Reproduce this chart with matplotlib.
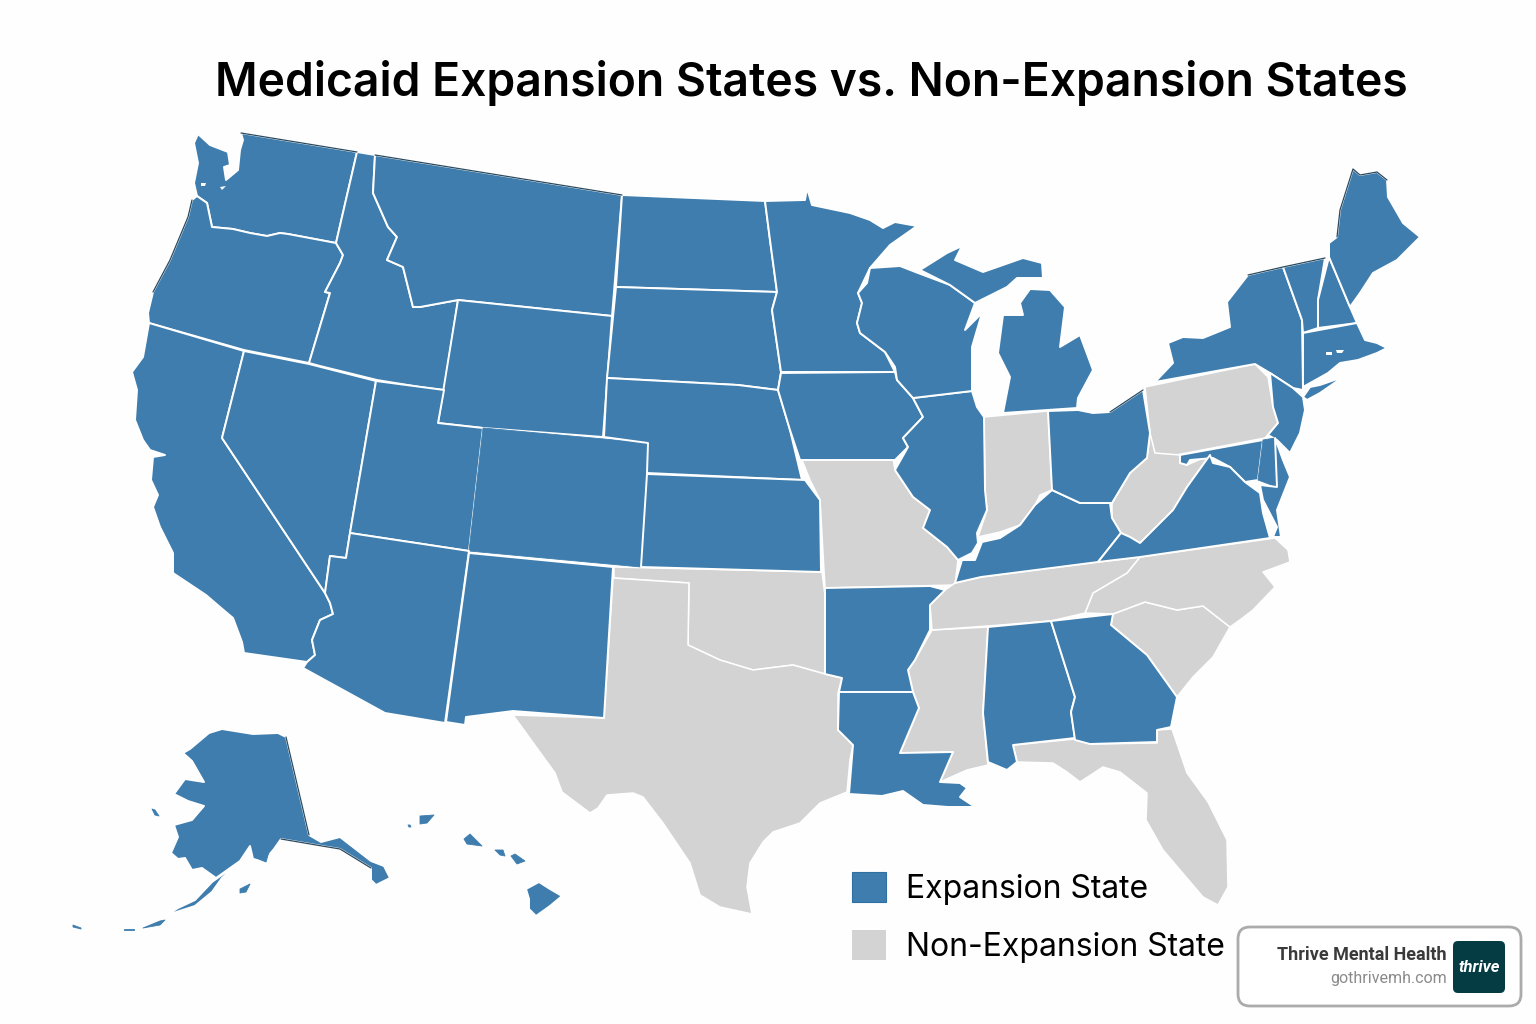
import matplotlib
matplotlib.use("Agg")
import matplotlib.pyplot as plt
from matplotlib.patches import Polygon, FancyBboxPatch, Patch

BLUE = "#3E7DAD"
GRAY = "#D3D3D3"

TITLE = "Medicaid Expansion States vs. Non-Expansion States"
LEGEND_LABELS = ["Expansion State", "Non-Expansion State"]

# State outlines in image pixels
WA = [(241,133),(357,152),(336,243),(288,234),(280,233),(267,236),(250,233),(233,229),(212,227),(207,203),(197,196),(194,183),(198,163),(194,143),(198,134),(210,145),(228,152),(230,165),(224,167),(226,180),(238,170),(240,150),(243,140)]
OR = [(197,196),(207,203),(212,227),(233,229),(250,233),(267,236),(280,233),(288,234),(336,243),(343,255),(340,263),(325,292),(330,293),(309,363),(244,350),(149,323),(148,313),(153,292),(170,260),(188,217),(192,200)]
CA = [(149,323),(244,351),(222,438),(325,593),(330,603),(333,614),(320,620),(312,640),(315,655),(307,662),(244,653),(242,642),(233,618),(220,607),(206,595),(173,573),(173,553),(160,527),(153,507),(158,495),(151,480),(153,457),(165,455),(150,450),(143,440),(135,420),(137,390),(132,372),(143,357)]
NV = [(244,351),(309,364),(376,381),(350,533),(346,558),(330,556),(325,593),(222,438)]
ID = [(357,152),(375,155),(373,193),(388,227),(397,237),(387,260),(403,267),(413,307),(420,307),(458,300),(444,390),(420,387),(377,380),(320,366),(309,363),(330,293),(325,292),(340,263),(343,255),(336,243)]
MT = [(375,155),(622,195),(612,316),(458,300),(420,307),(413,307),(403,267),(387,260),(397,237),(388,227),(373,193)]
WY = [(458,300),(612,316),(603,437),(483,428),(438,423)]
UT = [(376,381),(444,390),(438,423),(483,428),(469,551),(350,533)]
CO = [(483,428),(648,443),(641,567),(469,551)]
AZ = [(350,533),(469,551),(445,723),(385,713),(303,668),(307,662),(315,655),(312,640),(320,620),(333,614),(330,603),(325,593),(330,556),(346,558)]
NM = [(469,553),(613,567),(604,718),(513,711),(466,717),(465,725),(446,722)]
ND = [(622,195),(765,201),(770,240),(777,292),(616,287)]
SD = [(616,287),(777,292),(772,310),(781,372),(778,390),(738,385),(607,378)]
NE = [(607,378),(738,385),(778,390),(790,430),(802,480),(647,473),(648,443),(604,437)]
KS = [(647,474),(805,480),(820,500),(821,572),(641,567)]
OK = [(614,567),(822,572),(825,595),(825,674),(793,665),(753,670),(720,660),(688,645),(689,583),(614,578)]
TX = [(613,578),(689,583),(688,645),(720,660),(753,670),(793,665),(825,674),(842,678),(838,693),(838,730),(853,745),(850,760),(847,792),(820,803),(800,823),(773,832),(763,842),(750,863),(747,887),(752,914),(720,907),(700,895),(690,863),(663,823),(643,797),(633,793),(607,795),(598,808),(590,813),(562,792),(555,773),(513,715),(604,718)]
MN = [(765,201),(805,200),(807,188),(812,205),(850,213),(870,220),(883,228),(895,222),(917,226),(890,245),(870,268),(858,293),(862,303),(857,323),(860,333),(885,352),(895,372),(781,372),(772,310),(777,292),(770,240)]
IA = [(781,373),(895,372),(897,380),(913,398),(923,417),(903,438),(908,447),(895,460),(800,460),(790,430),(778,390)]
MO = [(802,460),(893,458),(895,470),(913,497),(930,510),(923,528),(947,547),(958,560),(955,585),(825,588),(820,500),(810,480)]
AR = [(825,588),(930,586),(945,590),(930,605),(930,630),(915,660),(908,670),(913,692),(839,692),(842,678),(825,674)]
LA = [(839,692),(913,692),(919,708),(900,753),(953,752),(940,782),(960,783),(967,788),(960,797),(975,807),(948,807),(923,805),(903,791),(882,796),(849,794),(853,745),(838,730)]
MS = [(932,630),(988,627),(983,713),(988,765),(967,770),(940,782),(953,752),(900,753),(919,708),(913,692),(908,670),(915,660)]
AL = [(988,627),(1051,621),(1075,697),(1071,712),(1075,738),(1013,745),(1017,762),(1007,770),(988,762),(983,713)]
GA = [(1051,621),(1113,614),(1111,625),(1147,655),(1177,697),(1171,727),(1157,730),(1157,742),(1090,744),(1075,740),(1071,712),(1075,697)]
FL = [(1013,745),(1075,739),(1090,744),(1157,743),(1157,730),(1172,729),(1187,773),(1208,802),(1227,840),(1228,887),(1218,905),(1203,897),(1163,850),(1146,820),(1147,793),(1120,772),(1103,767),(1080,782),(1067,772),(1053,763),(1017,762)]
SC = [(1113,614),(1145,602),(1177,610),(1203,606),(1230,627),(1213,657),(1193,677),(1177,697),(1147,655),(1111,625)]
NC = [(1085,613),(1093,593),(1127,573),(1140,557),(1275,538),(1288,550),(1290,562),(1263,572),(1275,587),(1253,610),(1240,620),(1230,627),(1203,606),(1177,610),(1145,602),(1113,614)]
TN = [(955,583),(981,577),(1098,562),(1140,557),(1127,573),(1093,593),(1085,613),(1051,621),(988,626),(932,630),(930,605),(945,590)]
KY = [(955,583),(962,560),(975,560),(982,542),(1000,538),(1020,525),(1035,505),(1052,490),(1080,503),(1110,503),(1112,518),(1121,533),(1098,562),(981,577)]
IL = [(913,398),(972,391),(977,407),(984,417),(985,490),(987,510),(977,533),(978,543),(972,553),(958,560),(947,547),(923,528),(930,510),(913,497),(895,470),(908,447),(903,438),(923,417)]
IN = [(984,417),(1048,411),(1052,490),(1040,495),(1035,505),(1020,525),(1000,532),(978,537),(987,510),(985,490)]
OH = [(1048,411),(1078,410),(1093,413),(1110,412),(1143,390),(1150,433),(1147,458),(1130,473),(1112,503),(1080,503),(1052,490)]
WI = [(870,268),(900,266),(918,273),(950,285),(975,303),(965,330),(982,313),(972,347),(972,391),(913,398),(897,380),(895,367),(885,352),(860,333),(857,323),(862,303),(858,293),(867,283)]
MI_UPPER = [(920,270),(947,253),(962,246),(955,260),(983,272),(1023,258),(1042,263),(1043,278),(1057,278),(1017,278),(1007,287),(975,303),(950,285)]
MI_LOWER = [(1003,413),(1010,377),(998,353),(1003,315),(1023,315),(1020,303),(1030,289),(1050,290),(1065,307),(1060,347),(1080,335),(1093,370),(1078,398),(1077,408)]
NY = [(1155,382),(1173,363),(1168,343),(1183,337),(1203,338),(1230,327),(1227,302),(1248,275),(1283,267),(1302,320),(1303,390),(1293,388),(1270,373),(1255,364)]
LONG_ISLAND = [(1303,397),(1310,387),(1320,385),(1343,377),(1320,393),(1307,400)]
VT = [(1283,267),(1325,258),(1318,300),(1318,328),(1303,333),(1302,320)]
NH = [(1329,257),(1350,307),(1357,323),(1318,328),(1318,300)]
ME = [(1329,257),(1329,243),(1337,237),(1340,210),(1353,169),(1360,175),(1377,172),(1387,180),(1388,197),(1403,223),(1420,237),(1397,260),(1373,273),(1360,293),(1350,307)]
MA_CT_RI = [(1303,333),(1357,323),(1365,340),(1377,343),(1387,348),(1377,353),(1358,360),(1340,363),(1328,373),(1303,387)]
PA = [(1145,387),(1255,364),(1268,377),(1273,407),(1278,423),(1265,438),(1150,460),(1150,433)]
NJ = [(1270,373),(1293,388),(1303,397),(1305,410),(1300,433),(1290,453),(1277,440),(1268,435),(1278,423),(1273,407)]
WV = [(1150,433),(1155,453),(1180,455),(1180,463),(1187,465),(1210,455),(1187,487),(1173,510),(1140,543),(1130,537),(1121,533),(1112,518),(1112,503),(1130,473),(1147,458)]
MD = [(1180,455),(1263,440),(1258,480),(1245,482),(1230,467),(1213,458),(1190,460),(1187,465),(1180,463)]
DE = [(1263,440),(1275,438),(1277,487),(1258,480)]
DELMARVA = [(1275,438),(1283,460),(1290,477),(1277,510),(1281,537),(1273,537),(1277,527),(1263,500),(1260,485),(1277,487)]
VA = [(1140,543),(1173,510),(1187,487),(1210,455),(1213,463),(1230,467),(1245,482),(1260,493),(1263,513),(1270,538),(1140,557),(1098,562),(1121,533),(1130,537)]
AK = [(209,733),(222,729),(253,734),(278,733),(286,737),(309,835),(321,842),(340,837),(371,861),(384,866),(390,878),(376,885),(371,880),(371,868),(340,849),(322,846),(281,839),(274,849),(264,861),(253,859),(250,846),(240,861),(216,878),(202,868),(192,870),(185,858),(178,859),(171,853),(178,837),(174,825),(192,820),(204,806),(188,801),(174,794),(185,779),(204,782),(192,761),(183,753),(190,749)]
AK_PENINSULA = [(240,862),(222,878),(212,892),(195,906),(170,914),(165,916),(178,908),(195,900),(212,882)]
AK_KODIAK = [(240,889),(250,884),(246,892),(240,893)]
AK_KENAI = [(254,847),(271,845),(266,862),(256,858)]
AK_NUNIVAK = [(152,809),(155,810),(159,816),(155,815)]
AK_ALEUT_1 = [(73,925),(81,928),(81,929),(73,927)]
AK_ALEUT_2 = [(124,929),(134,929),(134,930),(124,930)]
AK_ALEUT_3 = [(143,928),(160,921),(165,920),(160,925)]
HI_BIG = [(526,889),(539,882),(550,889),(562,896),(550,906),(536,916),(529,909),(529,899)]
HI_MAUI = [(511,856),(515,854),(525,861),(517,864)]
HI_MOLOKAI = [(495,850),(503,850),(505,856),(500,855)]
HI_OAHU = [(464,839),(470,834),(482,846),(467,844)]
HI_KAUAI = [(420,816),(434,815),(427,823),(420,824)]
HI_NIIHAU = [(408,825),(410,825),(411,827),(409,827)]

# small white water specks inside blue states
SPECK_WA_1 = [(201,183),(206,183),(205,186),(201,186)]
SPECK_WA_2 = [(220,187),(226,186),(222,190)]
SPECK_MA_1 = [(1326,352),(1332,352),(1332,355),(1326,355)]
SPECK_MA_2 = [(1336,350),(1344,350),(1342,353),(1337,353)]

EXPANSION = [WA, OR, CA, NV, ID, MT, WY, UT, CO, AZ, NM, ND, SD, NE, KS, MN, IA, AR, LA, AL, GA,
             KY, IL, OH, WI, MI_UPPER, MI_LOWER, NY, LONG_ISLAND, VT, NH, ME, MA_CT_RI, NJ, MD, DE,
             DELMARVA, VA, AK, AK_PENINSULA, AK_KODIAK, AK_KENAI, AK_NUNIVAK, AK_ALEUT_1,
             AK_ALEUT_2, AK_ALEUT_3, HI_BIG, HI_MAUI, HI_MOLOKAI, HI_OAHU, HI_KAUAI, HI_NIIHAU]
NON_EXPANSION = [OK, TX, MO, MS, FL, SC, NC, TN, IN, PA, WV]
SPECKS = [SPECK_WA_1, SPECK_WA_2, SPECK_MA_1, SPECK_MA_2]

# thin dark rim along the northern edges
RIM_WA = [(241,133),(357,152)]
RIM_MT = [(375,155),(622,195)]
RIM_OR = [(192,200),(188,217),(170,260),(153,292)]
RIM_NY = [(1248,275),(1283,267),(1325,258)]
RIM_ME = [(1337,237),(1340,210),(1353,169),(1360,175),(1377,172),(1387,180)]
RIM_AK = [(286,737),(309,835)]
RIM_AK_SOUTH = [(281,839),(322,846),(340,849),(371,868)]
RIM_OH = [(1110,412),(1143,390)]
RIMS = [RIM_WA, RIM_MT, RIM_OR, RIM_NY, RIM_ME, RIM_AK, RIM_AK_SOUTH, RIM_OH]

fig = plt.figure(figsize=(15.36, 10.24), dpi=100, facecolor="#FEFEFE")
ax = fig.add_axes([0, 0, 1, 1])
ax.set_xlim(0, 1536)
ax.set_ylim(1024, 0)
ax.axis("off")

for shape in NON_EXPANSION:
    ax.add_patch(Polygon(shape, closed=True, facecolor=GRAY, edgecolor="white", linewidth=1.1, joinstyle="round"))
for shape in EXPANSION:
    small = len(shape) <= 4
    ax.add_patch(Polygon(shape, closed=True, facecolor=BLUE, edgecolor=BLUE if small else "white",
                         linewidth=0.6 if small else 1.4, joinstyle="round"))
for shape in SPECKS:
    ax.add_patch(Polygon(shape, closed=True, facecolor="white", edgecolor="none"))
for rim in RIMS:
    ax.plot([p[0] for p in rim], [p[1] for p in rim], color="#2B4A5E", linewidth=0.9, solid_capstyle="round")

ax.text(215, 96, TITLE, family="Inter", fontsize=33.3, fontweight="semibold", color="black", ha="left", va="baseline")

handles = [Patch(facecolor=BLUE, edgecolor="#2F70A2", linewidth=0.8), Patch(facecolor=GRAY, edgecolor="none")]
ax.legend(handles, LEGEND_LABELS, loc="upper left", bbox_to_anchor=(852 / 1536, 1 - 872 / 1024),
          frameon=False, prop={"family": "Inter", "size": 23}, handlelength=1.07, handleheight=1.07,
          handletextpad=0.62, labelspacing=0.79, borderpad=0, borderaxespad=0)

ax.add_patch(FancyBboxPatch((1248, 937), 263, 59, boxstyle="round,pad=10,rounding_size=12",
                            facecolor="white", edgecolor="#ABABAB", linewidth=2))
ax.add_patch(FancyBboxPatch((1458, 946), 42, 42, boxstyle="round,pad=5,rounding_size=5",
                            facecolor="#053C44", edgecolor="none"))
ax.text(1447, 960, "Thrive Mental Health", family="Roboto", fontsize=13, fontweight="bold", color="#3A3A3A", ha="right", va="baseline")
ax.text(1447, 983, "gothrivemh.com", family="Roboto", fontsize=11.5, color="#8A8A8A", ha="right", va="baseline")
ax.text(1479, 972, "thrive", family="Roboto", fontsize=12, fontweight="bold", fontstyle="italic", color="white", ha="center", va="baseline")

fig.savefig("out.png", dpi=100, facecolor=fig.get_facecolor())
